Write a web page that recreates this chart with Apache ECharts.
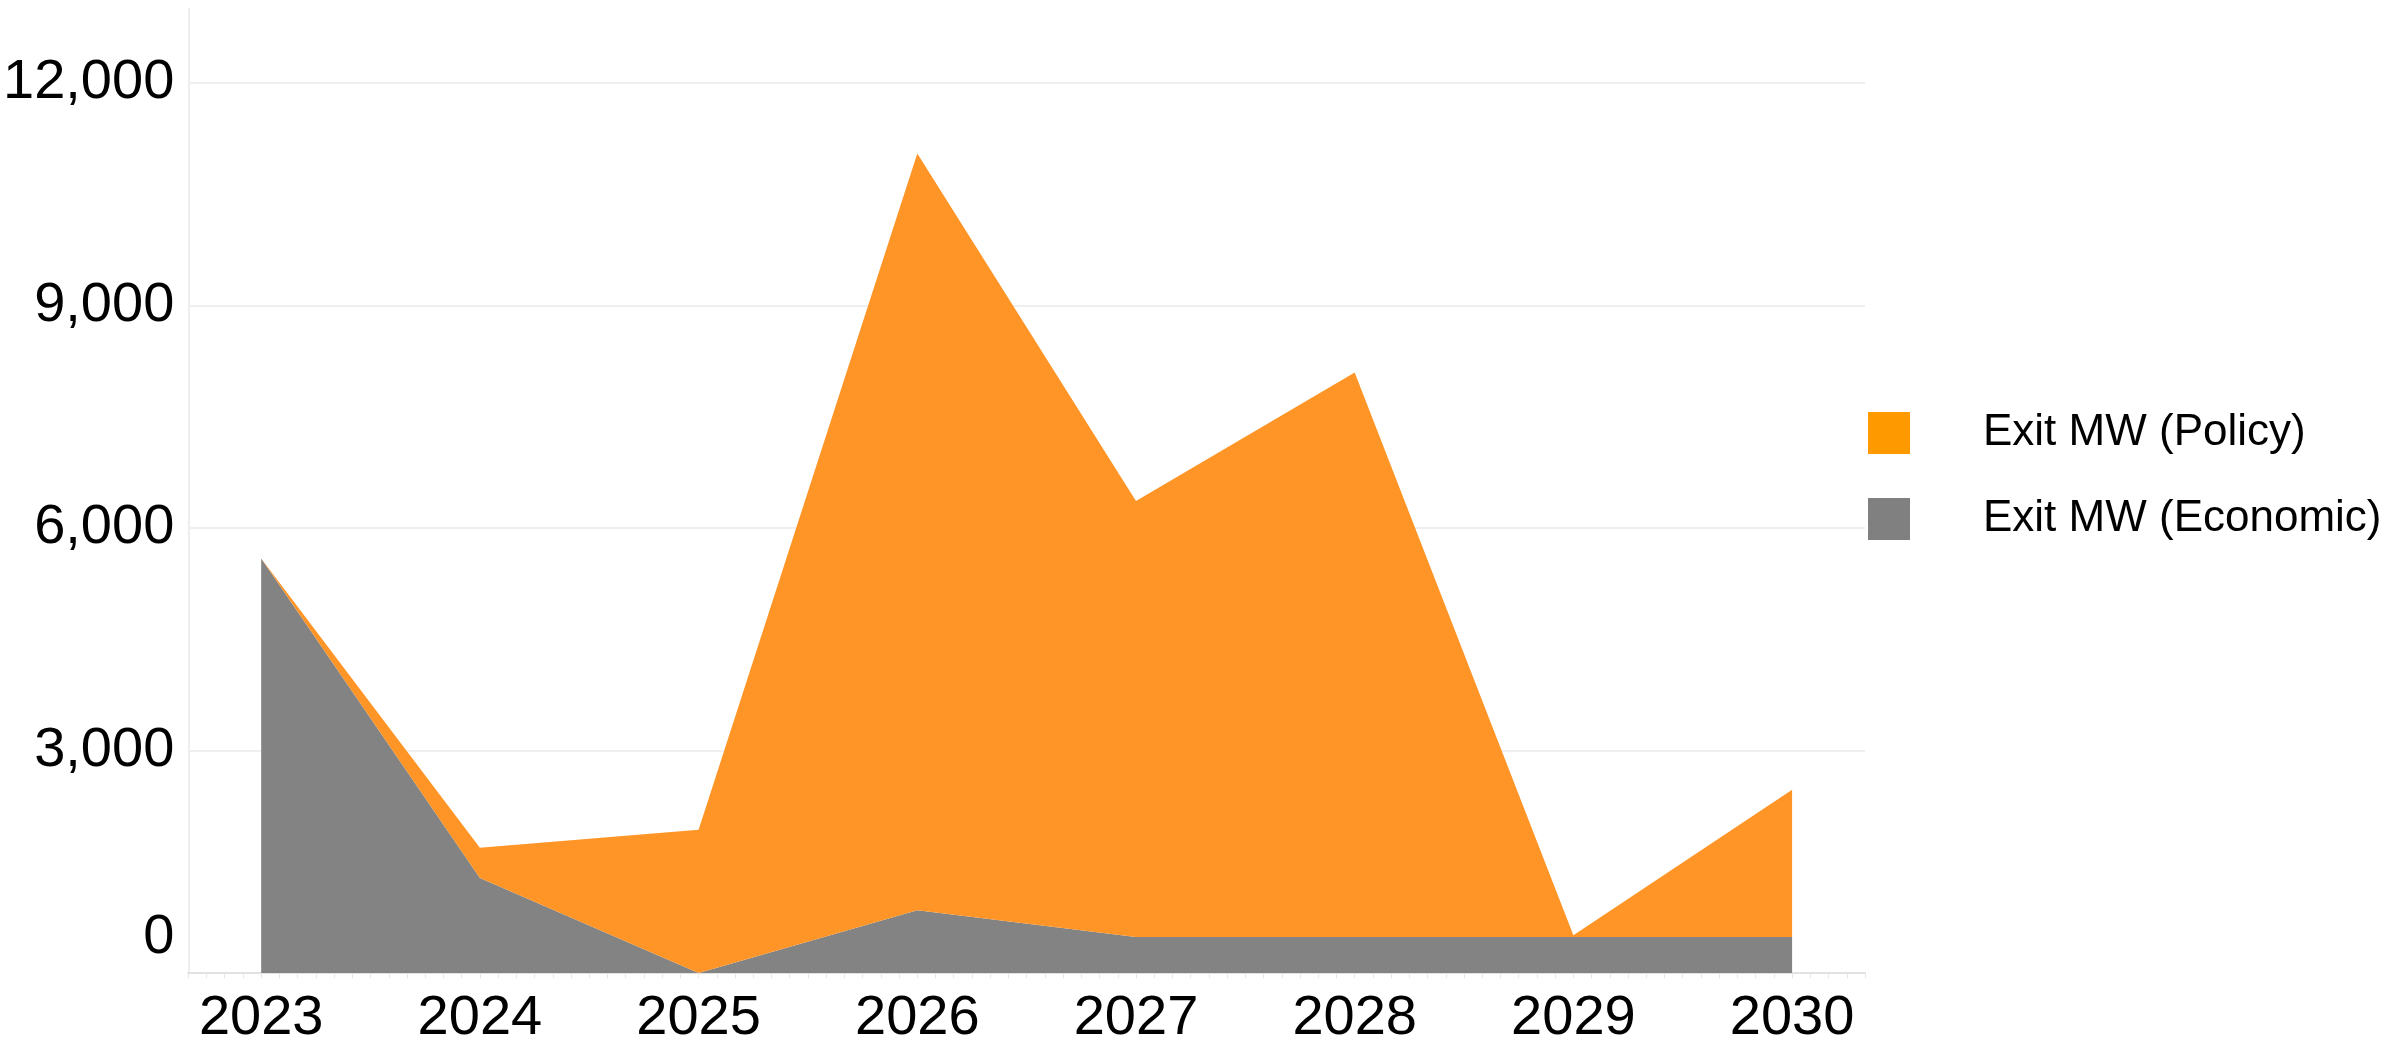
<!DOCTYPE html>
<html>
<head>
<meta charset="utf-8">
<script src="https://cdn.jsdelivr.net/npm/echarts@6/dist/echarts.min.js"></script>
<style>
  html, body { margin: 0; padding: 0; background: #ffffff; }
  #chart { width: 2400px; height: 1049px; }
</style>
</head>
<body>
<div id="chart"></div>
<script>
const years = [2023, 2024, 2025, 2026, 2027, 2028, 2029, 2030];
const exitPolicy = [0, 410, 1930, 10205, 5880, 7610, 25, 1985];
const exitEconomic = [5590, 1280, 0, 845, 485, 485, 485, 485];
const yTicks = [0, 3000, 6000, 9000, 12000];
const seriesNames = ['Exit MW (Policy)', 'Exit MW (Economic)'];

const axisFont = "'Liberation Sans', Arial, sans-serif";
const legendFont = "'Liberation Sans', Arial, sans-serif";

// x positions in months since the first year; value first so stacking uses the value dimension
const toMonths = y => (y - years[0]) * 12;
const econData = years.map((y, i) => [exitEconomic[i], toMonths(y)]);
const policyData = years.map((y, i) => [exitPolicy[i], toMonths(y)]);

const chart = echarts.init(document.getElementById('chart'), null, { renderer: 'canvas' });
chart.setOption({
  animation: false,
  backgroundColor: '#ffffff',
  grid: { left: 185.7, right: 535, top: 8.8, bottom: 76, containLabel: false },
  legend: {
    orient: 'vertical',
    left: 1863,
    top: 406,
    icon: 'rect',
    itemWidth: 42,
    itemHeight: 42,
    itemGap: 42,
    textStyle: { fontSize: 44, color: '#000', fontFamily: legendFont, padding: [0, 0, 0, 68] },
    data: [
      { name: seriesNames[0], itemStyle: { color: '#FF9900' } },
      { name: seriesNames[1], itemStyle: { color: '#808080' } }
    ]
  },
  xAxis: {
    type: 'value',
    min: -4,
    max: toMonths(years[years.length - 1]) + 4,
    interval: 1,
    axisLine: { show: true, onZero: false, lineStyle: { color: '#e2e2e2', width: 2 } },
    axisTick: { show: true, length: 5, lineStyle: { color: '#e6e6e6' } },
    splitLine: { show: false },
    axisLabel: {
      fontSize: 56, color: '#000', fontFamily: axisFont, margin: 18,
      formatter: v => (v >= 0 && v % 12 === 0) ? String(years[0] + v / 12) : ''
    }
  },
  yAxis: {
    type: 'value',
    min: 0,
    max: 13000,
    interval: 3000,
    axisLine: { show: true, onZero: false, lineStyle: { color: '#eeeeee', width: 2 } },
    axisTick: { show: false },
    splitLine: { show: true, showMaxLine: false, lineStyle: { color: '#efefef', width: 2 } },
    axisLabel: {
      fontSize: 56, color: '#000', fontFamily: axisFont, margin: 14, showMaxLabel: false,
      formatter: v => {
        if (yTicks.indexOf(v) < 0) return '';
        return v === 0 ? '{z|0}' : v.toLocaleString('en-US');
      },
      rich: { z: { fontSize: 56, color: '#000', fontFamily: axisFont, padding: [0, 0, 70, 0] } }
    }
  },
  series: [
    {
      name: seriesNames[1],
      type: 'line',
      stack: 'exit',
      encode: { x: 1, y: 0 },
      data: econData,
      symbol: 'none',
      lineStyle: { width: 0 },
      itemStyle: { color: '#808080' },
      areaStyle: { color: '#838383', opacity: 1 }
    },
    {
      name: seriesNames[0],
      type: 'line',
      stack: 'exit',
      encode: { x: 1, y: 0 },
      data: policyData,
      symbol: 'none',
      lineStyle: { width: 0 },
      itemStyle: { color: '#FF9900' },
      areaStyle: { color: '#FE9526', opacity: 1 }
    }
  ]
});
</script>
</body>
</html>
